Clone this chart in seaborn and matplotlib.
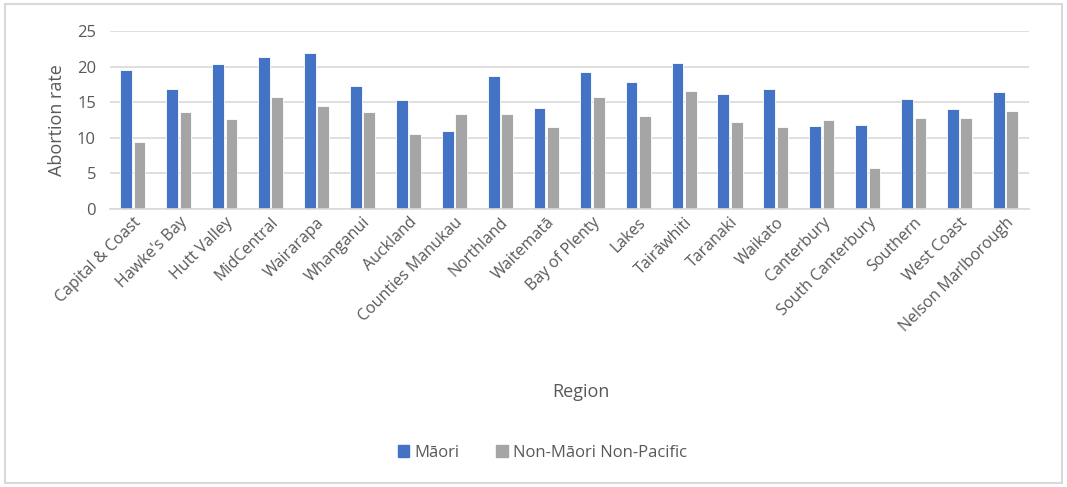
import seaborn as sns
import matplotlib.pyplot as plt
import matplotlib.patches as mpatches
import pandas as pd

# Regions (x-axis categories)
regions = ['Capital & Coast', "Hawke's Bay", 'Hutt Valley', 'MidCentral', 'Wairarapa',
           'Whanganui', 'Auckland', 'Counties Manukau', 'Northland', 'Waitematā',
           'Bay of Plenty', 'Lakes', 'Tairāwhiti', 'Taranaki', 'Waikato',
           'Canterbury', 'South Canterbury', 'Southern', 'West Coast', 'Nelson Marlborough']

# Abortion rates
maori = [19.5, 16.8, 20.4, 21.4, 21.9, 17.3, 15.3, 11.0, 18.7, 14.2,
         19.2, 17.8, 20.5, 16.1, 16.8, 11.7, 11.8, 15.4, 14.1, 16.5]
non_maori_non_pacific = [9.4, 13.6, 12.6, 15.7, 14.5, 13.7, 10.5, 13.3, 13.3, 11.5,
                         15.8, 13.0, 16.6, 12.2, 11.5, 12.5, 5.7, 12.8, 12.8, 13.8]
series = ['Māori', 'Non-Māori Non-Pacific']
colors = ['#4472C4', '#A5A5A5']

df = pd.DataFrame({
    'Region': regions * 2,
    'Abortion rate': maori + non_maori_non_pacific,
    'Group': [series[0]] * len(regions) + [series[1]] * len(regions),
})

sns.set_style("white")
plt.rcParams['font.family'] = ['Open Sans', 'DejaVu Sans']
text_color = '#595959'

fig = plt.figure(figsize=(10.67, 4.87), dpi=100)
ax = fig.add_axes([0.103, 0.571, 0.861, 0.365])

sns.barplot(data=df, x='Region', y='Abortion rate', hue='Group', order=regions,
            hue_order=series, palette=colors, saturation=1, width=0.58, gap=0.12,
            edgecolor='white', linewidth=0.6, legend=False, ax=ax)

ax.set_ylim(0, 25)
ax.set_xlim(-0.5, len(regions) - 0.5)
ax.set_yticks([0, 5, 10, 15, 20, 25])
ax.yaxis.grid(True, color='#D9D9D9', linewidth=1.2)
ax.set_axisbelow(True)
for s in ['top', 'right', 'left']:
    ax.spines[s].set_visible(False)
ax.spines['bottom'].set_color('#D9D9D9')
ax.spines['bottom'].set_linewidth(1.2)

ax.tick_params(axis='y', length=0, labelsize=12, labelcolor=text_color, pad=10)
ax.tick_params(axis='x', length=0, labelsize=11.5, labelcolor=text_color, pad=4)
plt.setp(ax.get_xticklabels(), rotation=45, ha='right', rotation_mode='anchor')

ax.set_xlabel('')
ax.set_ylabel('Abortion rate', fontsize=13, color=text_color, labelpad=8)
fig.text(0.544, 0.195, 'Region', fontsize=13, color=text_color, ha='center', va='center')

handles = [mpatches.Patch(color=c, label=l) for c, l in zip(colors, series)]
fig.legend(handles=handles, loc='center', bbox_to_anchor=(0.508, 0.07), ncol=2,
           frameon=False, fontsize=12, labelcolor=text_color, handlelength=0.7,
           handleheight=0.7, handletextpad=0.3, columnspacing=2.2)

# Light frame around the chart area
fig.patches.append(mpatches.Rectangle((0.005, 0.008), 0.99, 0.984, transform=fig.transFigure,
                                      fill=False, edgecolor='#D9D9D9', linewidth=1.5))

plt.savefig('out.png', dpi=100, facecolor='white')
plt.close()
